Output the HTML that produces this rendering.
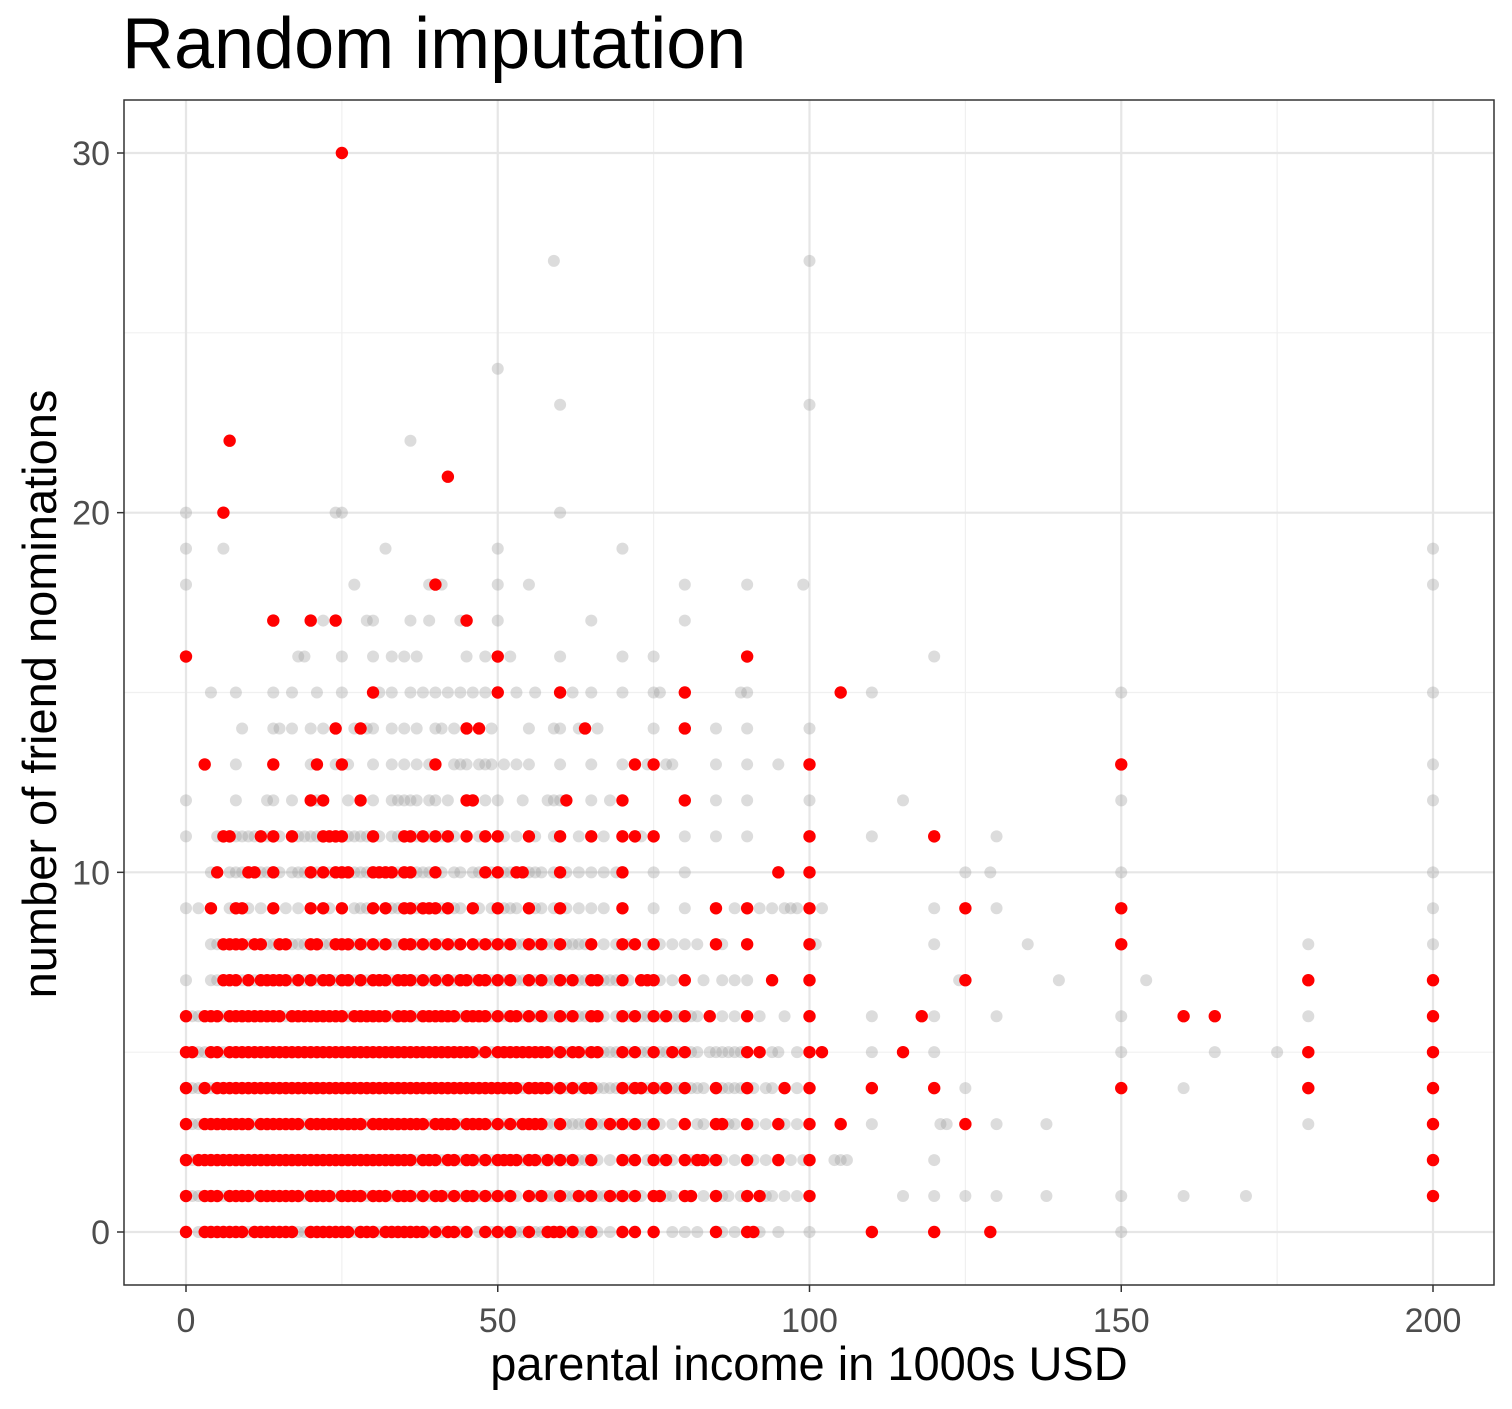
<!DOCTYPE html>
<html><head><meta charset="utf-8"><style>
body{margin:0;background:#fff;}
svg text{font-family:"Liberation Sans",sans-serif;}
</style></head><body>
<svg id="chart" width="1512" height="1404" xmlns="http://www.w3.org/2000/svg">
<rect width="1512" height="1404" fill="#fff"/>
<text x="122" y="68" font-size="72" fill="#000">Random imputation</text>
<g id="grid"></g>
<g id="grey"></g>
<g id="red"></g>
<rect x="124" y="100" width="1370" height="1185" fill="none" stroke="#333" stroke-width="1.5"/>
<g id="axes"></g>
<text x="809" y="1380" font-size="47" text-anchor="middle" fill="#000">parental income in 1000s USD</text>
<text transform="translate(56,694) rotate(-90)" font-size="47" text-anchor="middle" fill="#000">number of friend nominations</text>
</svg>
<script>
const xTicks=[0,50,100,150,200];
const xMinor=[25,75,125,175];
const yTicks=[0,10,20,30];
const yMinor=[5,15,25];
const redByCount=[
[0,[0,3,4,5,6,7,8,9,11,12,13,14,15,16,17,20,21,22,23,24,25,26,28,29,30,32,33,34,35,36,37,38,40,42,43,45,48,50,52,55,58,59,60,62,65,70,72,75,85,90,91,110,120,129]],
[1,[0,3,4,5,7,8,9,10,12,13,14,15,16,17,18,20,21,22,23,25,26,27,28,30,31,32,34,35,36,38,40,41,43,45,46,48,50,52,55,57,60,63,65,68,70,72,75,76,80,81,85,90,92,100,200]],
[2,[0,2,3,4,5,6,7,8,9,10,11,12,13,14,15,16,17,18,19,20,21,22,23,24,25,26,27,28,29,30,31,32,33,34,35,36,38,39,40,42,43,45,46,48,50,51,52,53,55,56,58,60,62,65,70,72,75,77,80,82,83,85,90,95,100,200]],
[3,[0,3,4,5,6,7,8,9,10,12,13,14,15,16,17,18,20,21,22,23,24,25,26,27,28,30,31,32,33,34,35,36,37,38,40,41,42,43,45,46,47,48,50,52,54,55,56,57,60,65,68,70,72,75,80,85,86,90,95,100,105,125,200]],
[4,[0,3,5,6,7,8,9,10,11,12,13,14,15,16,17,18,19,20,21,22,23,24,25,26,27,28,29,30,31,32,33,34,35,36,37,38,39,40,41,42,43,44,45,46,47,48,49,50,51,52,53,55,56,57,58,60,62,64,65,70,72,73,75,77,80,85,90,96,100,110,120,150,180,200]],
[5,[0,1,4,5,7,8,9,10,11,12,13,14,15,16,17,18,19,20,21,22,23,24,25,26,27,28,29,30,31,32,33,34,35,36,37,38,39,40,41,42,43,44,45,46,48,50,51,52,53,54,55,56,57,58,60,62,63,65,66,70,72,75,78,80,90,92,100,102,115,180,200]],
[6,[0,3,4,5,7,8,9,10,11,12,13,14,15,17,18,19,20,21,22,23,24,25,27,28,29,30,31,32,34,35,36,38,39,40,41,42,43,45,46,47,48,50,52,53,55,57,60,62,65,66,70,72,75,77,80,84,90,100,118,160,165,200]],
[7,[6,7,8,10,12,13,14,15,16,18,20,22,23,25,26,28,30,31,32,34,35,36,38,40,42,44,45,47,48,50,52,55,57,60,62,65,66,70,73,74,75,80,94,100,125,180,200]],
[8,[6,7,8,9,11,12,15,16,20,21,24,25,26,28,30,32,35,36,38,40,42,44,46,48,50,52,55,57,60,65,70,72,75,85,90,100,150]],
[9,[4,8,9,14,20,22,25,30,32,35,36,38,39,40,42,46,50,55,60,70,85,90,100,125,150]],
[10,[5,10,11,14,20,22,24,25,26,30,31,32,33,35,36,40,48,50,53,54,60,70,95,100]],
[11,[6,7,12,14,17,22,23,24,25,30,35,36,38,40,42,45,48,50,55,60,65,70,72,75,100,120]],
[12,[20,22,28,45,46,61,70,80]],
[13,[3,14,21,25,40,72,75,100,150]],
[14,[24,28,45,47,64,80]],
[15,[30,50,60,80,105]],
[16,[0,50,90]],
[17,[14,20,24,45]],
[18,[40]],
[20,[6]],
[21,[42]],
[22,[7]],
[30,[25]]
];
const greyByCount=[
[0,[0,2,5,10,14,18,19,27,31,39,41,44,47,49,51,53,54,56,57,61,63,64,66,68,70,75,78,80,82,86,88,92,95,100,150]],
[1,[1,2,6,11,19,24,29,33,37,39,42,44,47,49,51,53,56,58,59,61,62,64,66,67,69,71,73,77,78,83,86,87,89,93,94,96,98,100,115,120,125,130,138,150,160,170]],
[2,[1,37,41,44,47,49,54,57,59,61,63,64,66,68,71,74,76,78,81,84,86,88,91,93,97,99,100,104,105,106,120]],
[3,[1,2,11,19,29,39,44,49,51,53,58,59,61,62,63,64,66,67,69,71,73,74,76,78,82,83,87,88,91,93,96,98,110,121,122,130,138,180]],
[4,[0,1,2,4,54,59,61,63,66,67,68,69,71,74,76,78,79,81,82,83,86,87,88,89,91,93,94,98,125,160]],
[5,[2,3,6,47,49,59,61,64,67,68,69,71,73,74,76,77,79,81,82,84,85,86,87,88,89,94,95,98,110,120,150,165,175]],
[6,[1,2,6,16,26,33,37,44,49,51,54,56,58,59,61,63,64,66,67,69,71,73,74,76,78,79,81,82,86,88,92,96,110,120,130,150,180]],
[7,[0,4,5,9,11,17,19,21,24,27,29,33,37,39,41,43,46,49,51,53,54,56,58,59,61,63,64,67,68,69,71,76,78,80,83,86,88,90,100,124,140,154]],
[8,[4,5,10,13,14,17,18,19,22,23,27,29,31,33,34,37,39,41,43,47,49,51,53,54,56,58,59,61,62,63,64,67,69,71,74,76,78,80,82,86,90,100,101,120,135,180,200]],
[9,[0,2,7,10,12,16,18,23,27,28,29,33,34,37,41,43,44,47,49,51,52,53,56,57,59,61,63,65,67,70,75,80,88,92,94,96,97,98,102,120,130,200]],
[10,[4,7,8,9,12,13,15,17,18,19,21,23,27,28,29,34,37,38,39,41,43,44,46,47,49,51,52,55,56,57,59,61,63,65,67,69,75,80,125,129,150,200]],
[11,[0,5,8,9,10,11,13,15,18,19,20,21,26,27,28,29,31,33,34,37,39,41,43,47,51,53,55,56,59,60,63,65,67,73,80,85,90,110,130]],
[12,[0,8,13,14,17,21,26,30,33,34,35,36,37,39,40,42,48,50,54,58,59,60,65,68,80,85,90,100,115,150,200]],
[13,[8,14,20,24,26,30,33,35,37,39,43,44,45,47,48,49,51,53,55,60,65,70,74,77,78,85,90,95,100,200]],
[14,[9,14,15,17,20,22,27,29,30,33,35,37,40,41,43,47,49,55,59,60,63,66,75,85,90,100]],
[15,[4,8,14,17,21,25,31,33,36,38,40,42,44,46,48,53,56,62,65,70,75,76,89,90,110,150,200]],
[16,[18,19,25,30,33,35,37,45,48,52,60,70,75,120]],
[17,[22,29,30,36,39,44,50,65,80]],
[18,[0,27,39,41,50,55,80,90,99,200]],
[19,[0,6,32,50,70,200]],
[20,[0,24,25,60]],
[22,[36]],
[23,[60,100]],
[24,[50]],
[27,[59,100]]
];
const NS="http://www.w3.org/2000/svg";
const X0=186,X1=1433,Y0=1232,Y30=153;
function sx(v){return X0+(X1-X0)*v/200;}
function sy(v){return Y0+(Y30-Y0)*v/30;}
function mk(tag,attrs,parent){const e=document.createElementNS(NS,tag);for(const k in attrs)e.setAttribute(k,attrs[k]);parent.appendChild(e);return e;}
const grid=document.getElementById('grid'),axes=document.getElementById('axes');
xMinor.forEach(v=>{const l=mk('line',{x1:sx(v),x2:sx(v),y1:100,y2:1285,stroke:'#f0f0f0','stroke-width':1.2},grid);

});
yMinor.forEach(v=>{const l=mk('line',{x1:124,x2:1494,y1:sy(v),y2:sy(v),stroke:'#f0f0f0','stroke-width':1.2},grid);

});
xTicks.forEach(v=>{const l=mk('line',{x1:sx(v),x2:sx(v),y1:100,y2:1285,stroke:'#e6e6e6','stroke-width':2.2},grid);


const t=mk('line',{x1:sx(v),x2:sx(v),y1:1285,y2:1292,stroke:'#333','stroke-width':1.5},axes);


const tx=mk('text',{x:sx(v),y:1332,'font-size':34,'text-anchor':'middle',fill:'#4d4d4d'},axes);tx.textContent=v;

});
yTicks.forEach(v=>{const l=mk('line',{x1:124,x2:1494,y1:sy(v),y2:sy(v),stroke:'#e6e6e6','stroke-width':2.2},grid);


const t=mk('line',{x1:117,x2:124,y1:sy(v),y2:sy(v),stroke:'#333','stroke-width':1.5},axes);


const tx=mk('text',{x:110,y:sy(v)+12,'font-size':34,'text-anchor':'end',fill:'#4d4d4d'},axes);tx.textContent=v;

});
const gg=document.getElementById('grey');
greyByCount.forEach(([y,xs])=>xs.forEach(x=>{const c=mk('circle',{cx:sx(x),cy:sy(y),r:6,fill:'#9a9a9a','fill-opacity':0.35},gg);

}));
const rg=document.getElementById('red');
redByCount.forEach(([y,xs])=>xs.forEach(x=>{const c=mk('circle',{cx:sx(x),cy:sy(y),r:6.2,fill:'#ff0000'},rg);

}));
</script>
</body></html>
